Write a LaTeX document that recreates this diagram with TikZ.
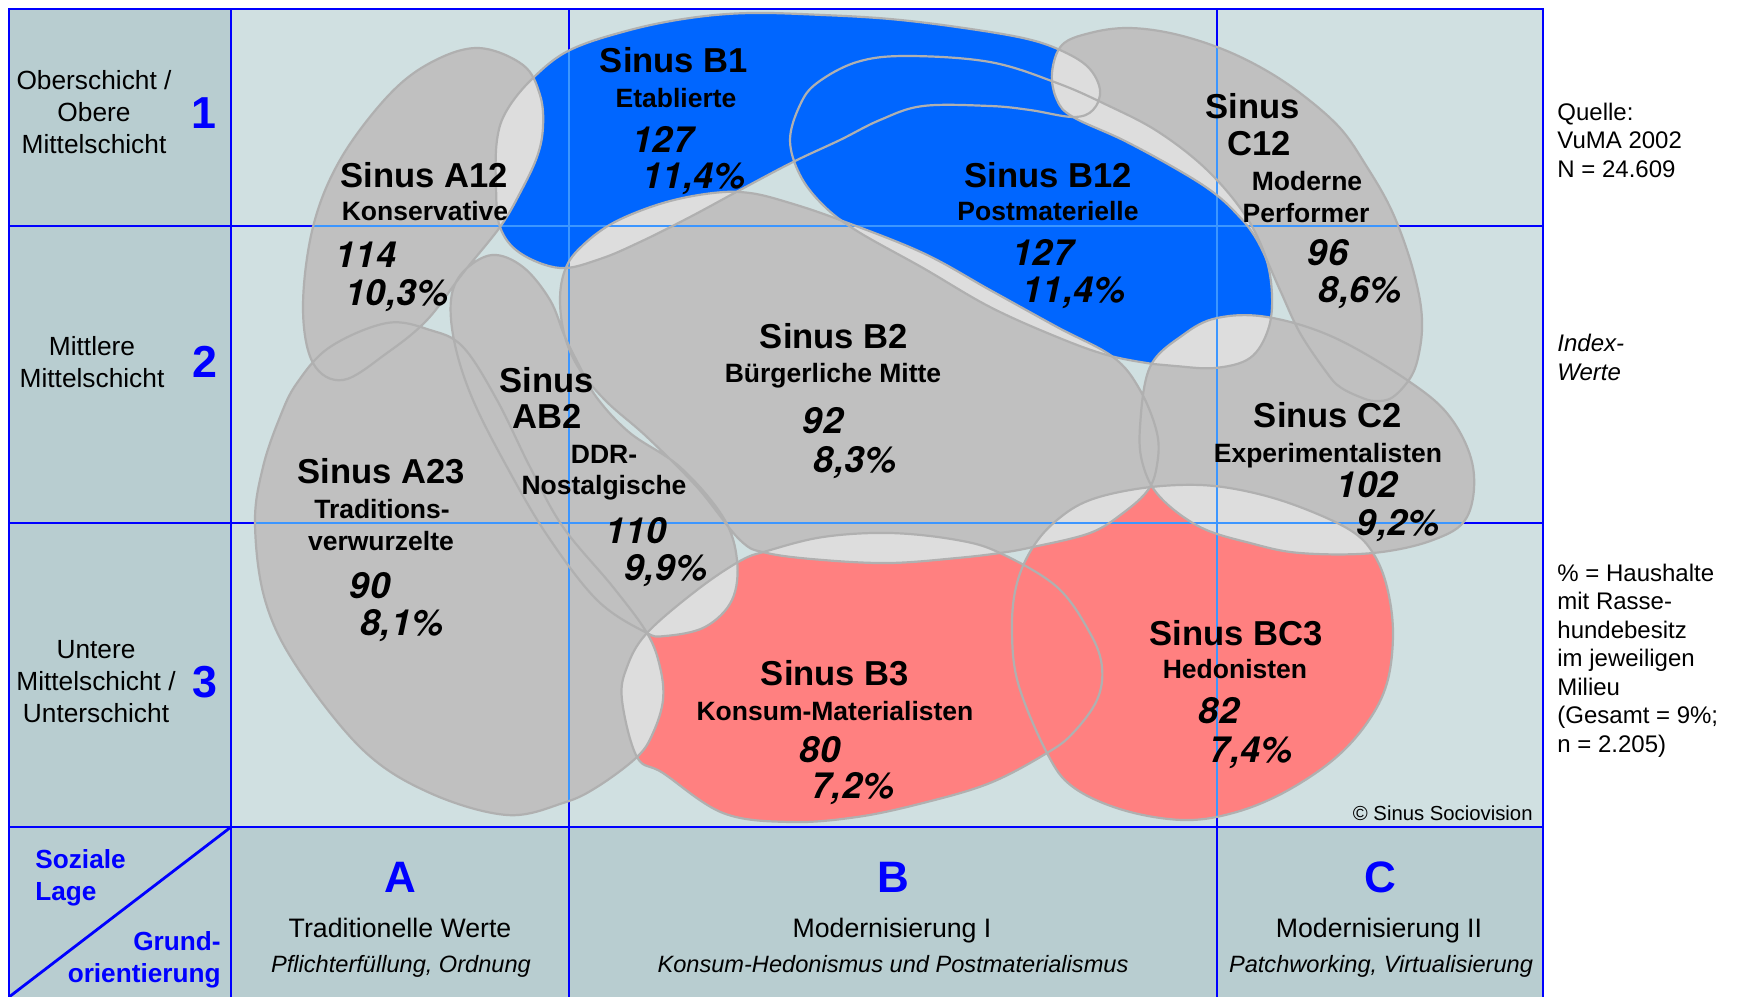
\documentclass[tikz,border=0pt]{standalone}
\usepackage{fontspec}
\setmainfont{Liberation Sans}
\newfontfamily\zahlfont{TeX Gyre Heros}
\definecolor{sinusBlau}{RGB}{0,102,255}
\definecolor{sinusRot}{RGB}{255,128,128}
\definecolor{sinusGrau}{RGB}{192,192,192}
\definecolor{sinusHellgrau}{RGB}{221,221,221}
\definecolor{sinusRand}{RGB}{176,176,176}
\definecolor{sinusLinie}{RGB}{0,0,255}
\definecolor{sinusDuenn}{RGB}{60,150,255}
\definecolor{sinusZelle}{RGB}{208,224,225}
\definecolor{sinusAchse}{RGB}{184,205,208}

% Umrisse der Milieus
\newcommand{\umrissAzwoelf}{plot[smooth cycle, tension=0.6] coordinates {(478,48) (523,65) (540,95) (543,127) (537,157) (520,193) (500,227) (463,273) (427,320) (387,353) (343,380) (313,363) (303,307) (313,227) (340,160) (387,97) (430,63)}}
\newcommand{\umrissBeins}{plot[smooth cycle, tension=0.6] coordinates {(533,78) (570,50) (630,30) (690,18) (750,13) (823,15) (890,19) (957,27) (1023,38) (1060,50) (1088,67) (1100,90) (1093,110) (1073,117) (1030,110) (990,106) (923,106) (880,120) (840,140) (793,162) (740,190) (690,217) (640,242) (600,259) (560,268) (520,253) (500,227) (496,187) (497,140) (507,110)}}
\newcommand{\umrissBzwoelf}{plot[smooth cycle, tension=0.6] coordinates {(790,140) (800,105) (817,83) (857,62) (907,56) (990,62) (1057,83) (1107,105) (1157,131) (1205,168) (1243,212) (1265,255) (1272,295) (1268,330) (1250,358) (1215,368) (1175,366) (1153,364) (1107,355) (1057,337) (990,307) (923,268) (857,231) (823,205) (800,175)}}
\newcommand{\umrissBzwei}{plot[smooth cycle, tension=0.6] coordinates {(560,300) (565,270) (580,248) (613,223) (663,203) (713,193) (750,193) (790,203) (840,220) (923,253) (990,290) (1057,327) (1113,357) (1140,390) (1157,433) (1157,465) (1148,490) (1123,513) (1090,533) (1033,547) (1000,553) (957,558) (890,563) (823,560) (767,553) (740,540) (697,487) (647,437) (607,402) (580,370) (565,337)}}
\newcommand{\umrissABzwei}{plot[smooth cycle, tension=0.6] coordinates {(492,255) (523,267) (550,300) (565,337) (580,367) (597,398) (630,433) (680,467) (723,517) (737,560) (732,600) (705,627) (665,636) (645,632) (597,600) (547,535) (507,467) (473,400) (455,345) (451,300) (463,272)}}
\newcommand{\umrissAzweidrei}{plot[smooth cycle, tension=0.6] coordinates {(255,523) (263,467) (280,417) (297,383) (330,347) (387,323) (430,330) (463,347) (497,400) (530,467) (563,527) (613,587) (647,633) (660,667) (663,700) (653,733) (637,757) (597,787) (563,803) (507,815) (430,793) (363,750) (297,667) (265,600)}}
\newcommand{\umrissBdrei}{plot[smooth cycle, tension=0.6] coordinates {(647,633) (697,590) (740,561) (767,551) (823,537) (890,533) (957,540) (1000,553) (1057,587) (1090,633) (1102,667) (1097,700) (1073,733) (1047,753) (990,783) (923,803) (857,817) (790,822) (723,813) (663,773) (637,757) (622,700) (627,667)}}
\newcommand{\umrissBCdrei}{plot[smooth cycle, tension=0.6] coordinates {(1033,547) (1057,520) (1090,500) (1143,488) (1200,485) (1250,492) (1300,507) (1350,530) (1373,553) (1387,587) (1393,633) (1387,683) (1367,723) (1333,760) (1283,793) (1233,813) (1183,820) (1123,810) (1073,787) (1047,753) (1018,683) (1012,627) (1017,583)}}
\newcommand{\umrissCzwei}{plot[smooth cycle, tension=0.6] coordinates {(1140,427) (1150,367) (1183,335) (1217,318) (1267,317) (1333,337) (1407,380) (1450,417) (1473,467) (1467,517) (1433,540) (1373,553) (1300,553) (1250,543) (1200,527) (1160,497) (1143,465)}}
\newcommand{\umrissCzwoelf}{plot[smooth cycle, tension=0.6] coordinates {(1052,73) (1062,45) (1090,33) (1127,28) (1170,33) (1217,47) (1260,67) (1300,93) (1340,128) (1367,167) (1390,207) (1407,250) (1418,290) (1422,320) (1420,348) (1412,375) (1393,397) (1375,401) (1360,397) (1340,387) (1327,373) (1300,333) (1280,290) (1257,240) (1235,212) (1210,190) (1173,167) (1123,140) (1073,117) (1057,100)}}
\newcommand{\alleGrauen}{\umrissAzwoelf \umrissAzweidrei \umrissABzwei \umrissBzwei \umrissCzwoelf \umrissCzwei}

\begin{document}
\begin{tikzpicture}[x=0.5pt, y=-0.5pt,
    gitter/.style={draw=sinusLinie, line width=1.4pt},
    duenn/.style={draw=sinusDuenn, line width=0.6pt},
    umriss/.style={draw=sinusRand, line width=1.1pt},
    titel/.style={font=\fontsize{17.3}{20}\selectfont\bfseries, anchor=base, inner sep=0pt},
    unter/.style={font=\fontsize{13.25}{16}\selectfont\bfseries, anchor=base, inner sep=0pt},
    zahl/.style={font=\zahlfont\fontsize{18}{21}\selectfont\bfseries\itshape, anchor=base, inner sep=0pt},
    schicht/.style={font=\fontsize{13.15}{16}\selectfont, align=center, anchor=base, inner sep=0pt},
    ziffer/.style={font=\fontsize{22.4}{26}\selectfont\bfseries, text=sinusLinie, anchor=base, inner sep=0pt},
    lage/.style={font=\fontsize{13.1}{16}\selectfont\bfseries, text=sinusLinie, inner sep=0pt},
    werte/.style={font=\fontsize{13.35}{16}\selectfont, anchor=base, inner sep=0pt},
    motto/.style={font=\fontsize{11.8}{14}\selectfont\itshape, anchor=base, inner sep=0pt},
    info/.style={font=\fontsize{12}{14.25}\selectfont, align=left, anchor=base west, inner sep=0pt}
  ]
  \useasboundingbox (0,0) rectangle (1737,997);
  \fill[white] (0,0) rectangle (1737,997);

  % Zellen und Raster
  \fill[sinusZelle] (231,9) rectangle (1543,827);
  \fill[sinusAchse] (9,9) rectangle (231,827);
  \fill[sinusAchse] (9,827) rectangle (1543,997);
  \draw[gitter] (9,997) -- (9,9) -- (1543,9) -- (1543,997);
  \draw[gitter] (231,9) -- (231,997);
  \draw[gitter] (569,9) -- (569,997);
  \draw[gitter] (1217,9) -- (1217,997);
  \draw[gitter] (9,226) -- (1543,226);
  \draw[gitter] (9,523) -- (1543,523);
  \draw[gitter] (9,827) -- (1543,827);
  \draw[gitter] (231,827) -- (9,997);

  % Milieus
  \fill[sinusGrau] \alleGrauen;
  \fill[sinusBlau] \umrissBeins \umrissBzwoelf;
  \fill[sinusRot] \umrissBdrei \umrissBCdrei;
  \begin{scope}
    \clip \umrissBeins;
    \fill[sinusHellgrau] \alleGrauen;
  \end{scope}
  \begin{scope}
    \clip \umrissBzwoelf;
    \fill[sinusHellgrau] \alleGrauen;
  \end{scope}
  \begin{scope}
    \clip \umrissBdrei;
    \fill[sinusHellgrau] \alleGrauen;
  \end{scope}
  \begin{scope}
    \clip \umrissBCdrei;
    \fill[sinusHellgrau] \alleGrauen;
  \end{scope}
  \begin{scope}
    \clip \alleGrauen \umrissBeins \umrissBzwoelf \umrissBdrei \umrissBCdrei;
    \draw[duenn] (569,9) -- (569,827);
    \draw[duenn] (1217,9) -- (1217,827);
    \draw[duenn] (231,226) -- (1543,226);
    \draw[duenn] (231,523) -- (1543,523);
  \end{scope}
  \draw[umriss] \alleGrauen;
  \draw[umriss] \umrissBeins \umrissBzwoelf \umrissBdrei \umrissBCdrei;

  % Beschriftung der Milieus
  \node[titel] (b1titel) at (674,72) {Sinus B1};
  \node[unter] (b1name) at (676,107) {Etablierte};
  \node[zahl] (b1index) at (663,152) {127};
  \node[zahl] (b1anteil) at (694,188) {11,4\%};

  \node[titel] (a12titel) at (424,187) {Sinus A12};
  \node[unter] (a12name) at (425,220) {Konservative};
  \node[zahl] (a12index) at (366,267) {114};
  \node[zahl] (a12anteil) at (397,305) {10,3\%};

  \node[titel] (b12titel) at (1048,187) {Sinus B12};
  \node[unter] (b12name) at (1048,220) {Postmaterielle};
  \node[zahl] (b12index) at (1043,265) {127};
  \node[zahl] (b12anteil) at (1074,302) {11,4\%};

  \node[titel] (c12titel) at (1253,118) {Sinus};
  \node[titel] (c12kurz) at (1259,155) {C12};
  \node[unter] (c12name) at (1307,190) {Moderne};
  \node[unter] (c12name2) at (1306,222) {Performer};
  \node[zahl] (c12index) at (1328,265) {96};
  \node[zahl] (c12anteil) at (1360,302) {8,6\%};

  \node[titel] (b2titel) at (834,348) {Sinus B2};
  \node[unter] (b2name) at (833,382) {Bürgerliche Mitte};
  \node[zahl] (b2index) at (823,433) {92};
  \node[zahl] (b2anteil) at (855,472) {8,3\%};

  \node[titel] (ab2titel) at (547,392) {Sinus};
  \node[titel] (ab2kurz) at (547,428) {AB2};
  \node[unter] (ab2name) at (604,463) {DDR-};
  \node[unter] (ab2name2) at (604,494) {Nostalgische};
  \node[zahl] (ab2index) at (636,543) {110};
  \node[zahl] (ab2anteil) at (666,580) {9,9\%};

  \node[titel] (a23titel) at (381,483) {Sinus A23};
  \node[unter] (a23name) at (382,518) {Traditions-};
  \node[unter] (a23name2) at (381,550) {verwurzelte};
  \node[zahl] (a23index) at (370,598) {90};
  \node[zahl] (a23anteil) at (402,635) {8,1\%};

  \node[titel] (c2titel) at (1328,427) {Sinus C2};
  \node[unter] (c2name) at (1328,462) {Experimentalisten};
  \node[zahl] (c2index) at (1367,497) {102};
  \node[zahl] (c2anteil) at (1398,535) {9,2\%};

  \node[titel] (b3titel) at (835,685) {Sinus B3};
  \node[unter] (b3name) at (835,720) {Konsum-Materialisten};
  \node[zahl] (b3index) at (820,762) {80};
  \node[zahl] (b3anteil) at (853,798) {7,2\%};

  \node[titel] (bc3titel) at (1236,645) {Sinus BC3};
  \node[unter] (bc3name) at (1235,678) {Hedonisten};
  \node[zahl] (bc3index) at (1219,723) {82};
  \node[zahl] (bc3anteil) at (1251,762) {7,4\%};

  \node[font=\fontsize{10.15}{12}\selectfont, anchor=base east, inner sep=0pt] (copyright) at (1533,820) {© Sinus Sociovision};

  % Soziale Lage
  \node[schicht] (schicht1) at (94,153) {Oberschicht /\\Obere\\Mittelschicht};
  \node[ziffer] (ziffer1) at (204,128) {1};
  \node[schicht] (schicht2) at (92,387) {Mittlere\\Mittelschicht};
  \node[ziffer] (ziffer2) at (205,377) {2};
  \node[schicht] (schicht3) at (96,722) {Untere\\Mittelschicht /\\Unterschicht};
  \node[ziffer] (ziffer3) at (205,697) {3};
  \node[lage, align=left, anchor=base west] (lage) at (35,900) {Soziale\\Lage};
  \node[lage, align=right, anchor=base east] (grund) at (221,982) {Grund-\\orientierung};

  % Grundorientierung
  \node[ziffer, font=\fontsize{22}{26}\selectfont\bfseries] (achseA) at (400,892) {A};
  \node[werte] (werteA) at (400,937) {Traditionelle Werte};
  \node[motto] (mottoA) at (401,972) {Pflichterfüllung, Ordnung};
  \node[ziffer, font=\fontsize{22}{26}\selectfont\bfseries] (achseB) at (893,892) {B};
  \node[werte] (werteB) at (892,937) {Modernisierung I};
  \node[motto] (mottoB) at (893,972) {Konsum-Hedonismus und Postmaterialismus};
  \node[ziffer, font=\fontsize{22}{26}\selectfont\bfseries] (achseC) at (1380,892) {C};
  \node[werte] (werteC) at (1379,937) {Modernisierung II};
  \node[motto] (mottoC) at (1381,972) {Patchworking, Virtualisierung};

  % Legende
  \node[info] (quelle) at (1557,177) {Quelle:\\VuMA 2002\\N = 24.609};
  \node[info, font=\fontsize{12}{14.25}\selectfont\itshape] (index) at (1557,380) {Index-\\Werte};
  \node[info] (prozent) at (1557,752) {\% = Haushalte\\mit Rasse-\\hundebesitz\\im jeweiligen\\Milieu\\(Gesamt = 9\%;\\n = 2.205)};
\end{tikzpicture}
\end{document}
